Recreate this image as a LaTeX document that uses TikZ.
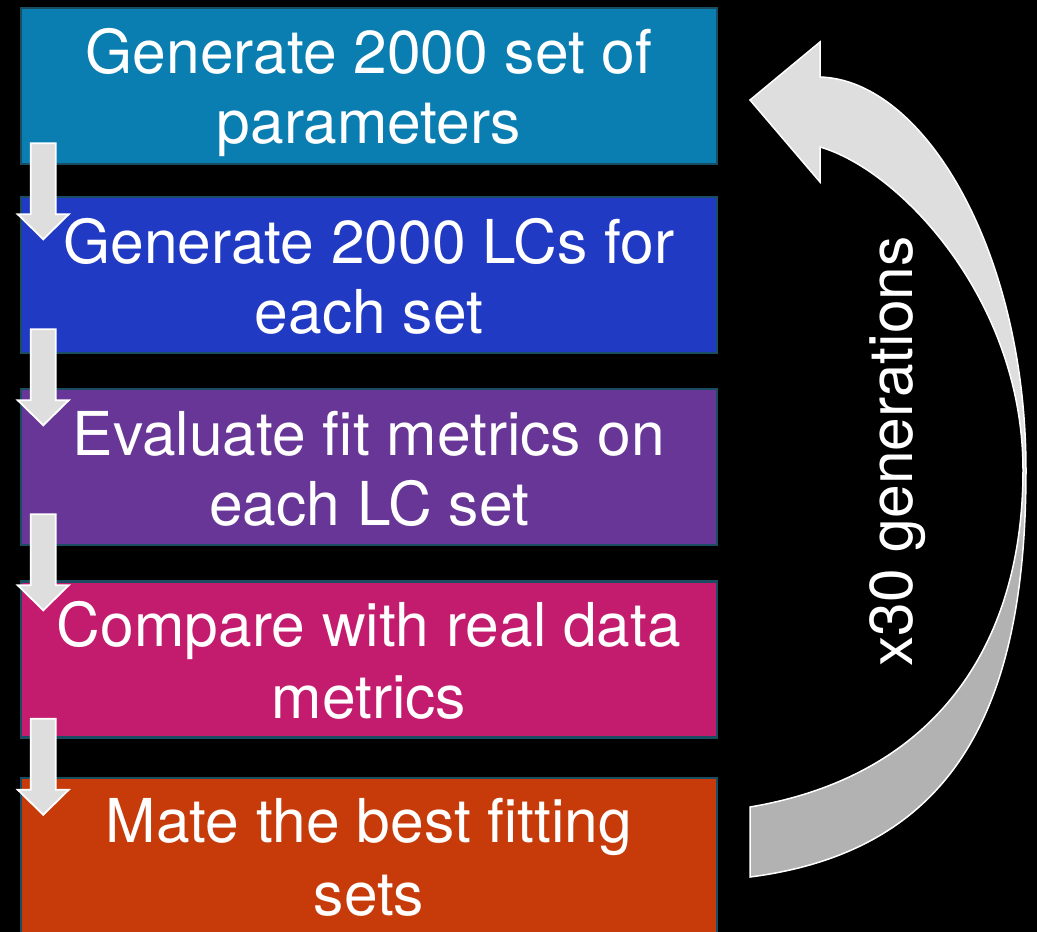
\documentclass[tikz,border=0pt]{standalone}
\usepackage{fontspec}
\setmainfont{TeX Gyre Heros}
\definecolor{cA}{HTML}{0A7EB0}
\definecolor{cB}{HTML}{213AC4}
\definecolor{cC}{HTML}{673696}
\definecolor{cD}{HTML}{C31B6D}
\definecolor{cE}{HTML}{C73B0B}
\definecolor{boxborder}{HTML}{1B4D62}
\definecolor{atop}{RGB}{222,222,222}
\definecolor{abot}{RGB}{178,178,178}
\pgfdeclareverticalshading{loopshade}{100bp}{color(0bp)=(abot); color(44bp)=(abot); color(50bp)=(atop); color(100bp)=(atop)}
\newcommand\ls{\rule[-12pt]{0pt}{70pt}}
\tikzset{
  stepbox/.style={draw=boxborder, line width=2.5pt, minimum width=696pt, minimum height=156pt,
    inner sep=0pt, text=white, align=center, font=\fontsize{60.5pt}{70pt}\selectfont},
  smallarrow/.style={fill=atop, draw=white, line width=1.8pt, line join=miter},
  bigarrow/.style={shading=loopshade, draw=white, line width=1.5pt, line join=miter},
  darrow/.pic={
    \path[smallarrow] (-12.5,0) -- (12.5,0) -- (12.5,71) -- (25.5,71) -- (0,96) -- (-25.5,71) -- (-12.5,71) -- cycle;
  }
}
\begin{document}
\begin{tikzpicture}[x=1pt,y=-1pt]
\useasboundingbox (0,0) rectangle (1037,932);
\fill[black] (0,0) rectangle (1037,932);

\node[stepbox, fill=cA] (b1) at (369,86) {\ls Generate 2000 set of\\\ls parameters};
\node[stepbox, fill=cB] (b2) at (369,275) {\ls Generate 2000 LCs for\\\ls each set};
\node[stepbox, fill=cC] (b3) at (369,467) {\ls Evaluate fit metrics on\\\ls each LC set};
\node[stepbox, fill=cD] (b4) at (369,659.5) {\ls Compare with real data\\\ls metrics};
\node[stepbox, fill=cE] (b5) at (369,856) {\ls Mate the best fitting\\\ls sets};

\pic at ([shift={(23.5,-22)}]b1.south west) {darrow};
\pic at ([shift={(23.5,-25)}]b2.south west) {darrow};
\pic at ([shift={(23.5,-32)}]b3.south west) {darrow};
\pic at ([shift={(23.5,-20)}]b4.south west) {darrow};

\coordinate (tip) at (750,100);
\coordinate (tail) at (750,842);
\draw[bigarrow] (tip) -- (820,42) -- (820,77)
  .. controls (925,80) and (1026,253) .. (1026,470)
  .. controls (1026,700) and (960,850) .. ([yshift=-35]tail)
  -- ([yshift=35]tail)
  .. controls (940,775) and (1023,640) .. (1023,470)
  .. controls (1023,300) and (900,170) .. (820,147)
  -- (820,182) -- cycle;

\node[rotate=90, anchor=base, text=white, font=\fontsize{60.5pt}{70pt}\selectfont, inner sep=0pt] (lab) at (912,451.5) {x30 generations};
\end{tikzpicture}
\end{document}
